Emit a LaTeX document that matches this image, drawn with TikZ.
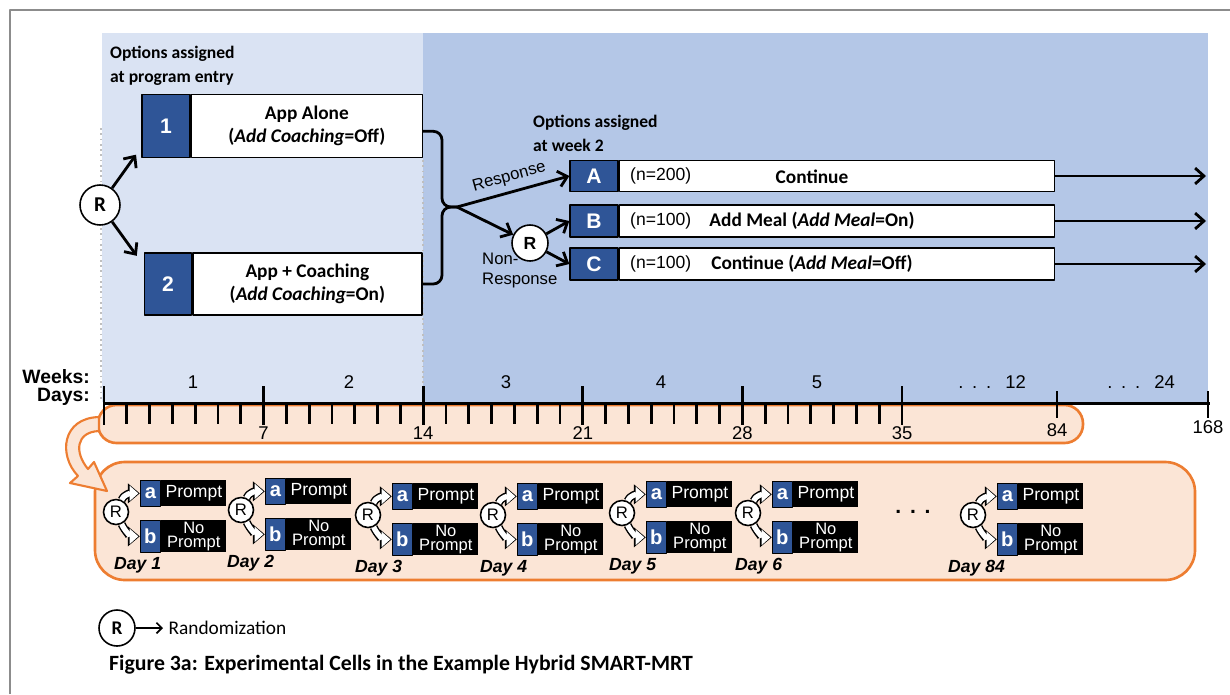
\documentclass[tikz,border=0pt]{standalone}
\usepackage{fontspec}
\setmainfont{Carlito}
\newfontfamily\arialfont{Liberation Sans}
\usetikzlibrary{positioning,arrows.meta}
\definecolor{lightband}{HTML}{DAE3F3}
\definecolor{midband}{HTML}{B4C7E7}
\definecolor{navybox}{HTML}{2F5597}
\definecolor{orangeline}{HTML}{ED7D31}
\definecolor{orangefill}{HTML}{FBE5D6}
\definecolor{framegray}{HTML}{8C8C8C}
\tikzset{
  armnum/.style={fill=navybox,draw=black,line width=0.8pt,text=white,inner sep=0pt,
    font=\arialfont\bfseries\fontsize{12}{14}\selectfont},
  armtext/.style={fill=white,draw=black,line width=0.8pt,inner sep=0pt,align=center,
    font=\bfseries\fontsize{11}{13}\selectfont},
  armlab/.style={font=\arialfont\fontsize{10}{12}\selectfont},
  randnode/.style={circle,draw=black,fill=white,line width=0.9pt,inner sep=0pt},
  flow/.style={->,line width=1.6pt},
  promptbox/.style={fill=black,text=white,inner sep=0pt,text width=1.3cm,align=center,
    font=\arialfont\fontsize{9.4}{8}\selectfont},
  letterbox/.style={fill=navybox,draw=black,line width=0.7pt,text=white,inner sep=0pt,
    minimum width=0.4cm,font=\arialfont\bfseries\fontsize{11.5}{12}\selectfont},
  dayarrow/.style={draw=white,line width=3pt,shorten >=0.8pt,-{Triangle[length=5pt,width=8.5pt]},
    preaction={draw=black,line width=4.6pt,shorten >=0pt,-{Triangle[length=6.8pt,width=11pt]}}},
  axislab/.style={font=\arialfont\fontsize{10.5}{12}\selectfont},
}
\begin{document}
\begin{tikzpicture}[x=0.02cm,y=-0.02cm,>={Straight Barb[length=5pt,width=9pt]},line join=round]
\useasboundingbox (0,0) rectangle (1230,694);
% frame and phases
\draw[framegray,line width=1.2pt] (10,694) -- (10,10) -- (1230,10);
\fill[lightband] (102,33) rectangle (423,402);
\fill[midband] (423,33) rectangle (1208,402);
\draw[gray!50,dotted,line width=1pt] (101,128) -- (101,400);
\draw[gray!50,dotted,line width=1pt] (423,160) -- (423,400);
% orange bands
\draw[orangeline,fill=orangefill,line width=1.5pt,rounded corners=10.5pt] (98,405) rectangle (1083,443);
\draw[orangeline,fill=orangefill,line width=1.5pt,rounded corners=17pt] (95,462) rectangle (1195,580);
\draw[orangeline,fill=orangefill,line width=1.2pt] (99,417) .. controls (62,418) and (58,455) .. (78,476)
  -- (70,483) -- (107,491) -- (94,462) -- (88,469) .. controls (74,452) and (76,432) .. (99,431) -- cycle;

% stage 1
\node[anchor=north west,align=left,font=\bfseries\fontsize{10}{13.5}\selectfont] (head1) at (104,40)
  {Options assigned\\at program entry};
\node[armnum,minimum width=0.96cm,minimum height=1.26cm] (n1) at (166,126) {1};
\node[armtext,right=0pt of n1,minimum width=4.62cm,minimum height=1.26cm] (t1)
  {App Alone\\(\textit{Add Coaching}=Off)};
\node[armnum,minimum width=0.94cm,minimum height=1.24cm] (n2) at (168,284) {2};
\node[armtext,right=0pt of n2,minimum width=4.58cm,minimum height=1.24cm] (t2)
  {App + Coaching\\(\textit{Add Coaching}=On)};
\node[randnode,minimum size=0.8cm,font=\bfseries\fontsize{12}{14}\selectfont] (r1) at (100,205) {R};
\draw[flow] (r1) -- ([shift={(-3pt,2pt)}]n1.south west);
\draw[flow] (r1) -- ([shift={(-4pt,-2pt)}]n2.north west);

% brace
\coordinate (tip) at (457,207);
\draw[line width=1.6pt,rounded corners=5pt] ([yshift=-3pt]t1.east) -| (442,207) -- (tip);
\draw[line width=1.6pt,rounded corners=5pt] (t2.east) -| (442,207) -- (tip);

% stage 2
\node[anchor=north west,align=left,font=\bfseries\fontsize{10}{13.5}\selectfont] (head2) at (527,109)
  {Options assigned\\at week 2};
\node[armnum,minimum width=0.96cm,minimum height=0.62cm] (nA) at (594,176) {A};
\node[armtext,right=0pt of nA,minimum width=8.7cm,minimum height=0.62cm] (tA) {};
\node[armnum,minimum width=0.96cm,minimum height=0.64cm] (nB) at (594,221) {B};
\node[armtext,right=0pt of nB,minimum width=8.7cm,minimum height=0.64cm] (tB) {};
\node[armnum,minimum width=0.96cm,minimum height=0.64cm] (nC) at (594,264) {C};
\node[armtext,right=0pt of nC,minimum width=8.7cm,minimum height=0.64cm] (tC) {};
\node[armlab,anchor=west] (sA) at (624,176) {(n=200)};
\node[armlab,anchor=west] (sB) at (624,221) {(n=100)};
\node[armlab,anchor=west] (sC) at (624,264) {(n=100)};
\node[font=\bfseries\fontsize{11}{13}\selectfont] (cA) at (812,177) {Continue};
\node[font=\bfseries\fontsize{11}{13}\selectfont] (cB) at (812,221) {Add Meal (\textit{Add Meal}=On)};
\node[font=\bfseries\fontsize{11}{13}\selectfont] (cC) at (812,264) {Continue (\textit{Add Meal}=Off)};
\node[randnode,minimum size=0.72cm,font=\arialfont\bfseries\fontsize{10}{12}\selectfont] (r2) at (530,243) {R};
\draw[flow] (tip) -- (nA.west) node[midway,above,sloped,armlab,font=\arialfont\fontsize{9.5}{11}\selectfont] {Response};
\draw[flow] (tip) -- (r2);
\draw[flow] (r2) -- (nB.west);
\draw[flow] (r2) -- (nC.west);
\node[anchor=north west,align=left,font=\arialfont\fontsize{9.5}{11.3}\selectfont] (nonresp) at (476,247) {Non-\\Response};
\coordinate (eA) at (1206,176);
\coordinate (eB) at (1206,221);
\coordinate (eC) at (1206,264);
\draw[flow] (tA.east) -- (eA);
\draw[flow] (tB.east) -- (eB);
\draw[flow] (tC.east) -- (eC);

% time axis
\node[anchor=east,font=\arialfont\bfseries\fontsize{11}{12}\selectfont] (wk) at (96,377) {Weeks:};
\node[anchor=east,font=\arialfont\bfseries\fontsize{11}{12}\selectfont] (dy) at (96,397) {Days:};
\draw[line width=1.7pt] (104,403) -- (1210,403);
\foreach \d in {1,...,34}
  \draw[line width=1.6pt] (104+22.8*\d,403) -- (104+22.8*\d,424);
\foreach \d/\lab in {7/7,14/14,21/21,28/28,35/35}{
  \draw[line width=1.6pt] (104+22.8*\d,386) -- (104+22.8*\d,425);
  \node[axislab] at (104+22.8*\d,433) {\lab};
}
\draw[line width=1.6pt] (104,386) -- (104,425);
\draw[line width=1.6pt] (1057,391) -- (1057,418);
\draw[line width=1.6pt] (1208,391) -- (1208,418);
\node[axislab] at (1057,430) {84};
\node[axislab] at (1208,427) {168};
\foreach \w/\x in {1/193,2/349,3/506,4/661,5/817}
  \node[axislab] at (\x,382) {\w};
\node[axislab,anchor=east] at (1032,382) {.\hspace{5pt}.\hspace{5pt}.\hspace{8pt}12};
\node[axislab,anchor=east] at (1181,382) {.\hspace{5pt}.\hspace{5pt}.\hspace{8pt}24};

% daily micro-randomizations
\foreach \i/\rx/\ry/\lx/\lab in {1/118/512/108/Day 1,2/243/510/221/Day 2,3/370/515/349/Day 3,
    4/495/515/474/Day 4,5/624/513/603/Day 5,6/750/513/729/Day 6,84/975/515/942/Day 84}{
  \node[randnode,minimum size=0.5cm,font=\arialfont\fontsize{9.5}{11}\selectfont] (rd\i) at (\rx-2,\ry) {R};
  \node[promptbox,anchor=north west,minimum height=0.52cm,font=\arialfont\fontsize{10}{10}\selectfont] (pa\i) at (\rx+43,\ry-32) {Prompt};
  \node[letterbox,left=0pt of pa\i,minimum height=0.52cm] (la\i) {a};
  \node[promptbox,anchor=north west,minimum height=0.64cm] (pb\i) at (\rx+43,\ry+8) {No\\Prompt};
  \node[letterbox,left=0pt of pb\i,minimum height=0.64cm] (lb\i) {b};
  \draw[dayarrow] (rd\i.65) to[out=65,in=180] (la\i.west);
  \draw[dayarrow] (rd\i.-65) to[out=-65,in=180] (lb\i.west);
  \node[anchor=west,font=\arialfont\bfseries\itshape\fontsize{10}{12}\selectfont] (dl\i) at (\lx,\ry+53) {\lab};
}
\node[font=\arialfont\bfseries\fontsize{12}{12}\selectfont] (more) at (913,512) {.\hspace{5pt}.\hspace{5pt}.};

% legend and caption
\node[randnode,minimum size=0.72cm,font=\bfseries\fontsize{11}{13}\selectfont] (lr) at (117,628) {R};
\node[anchor=west,font=\fontsize{11}{13}\selectfont,inner sep=3pt] (lt) at (163,628) {Randomization};
\draw[->,line width=1pt,>={Straight Barb[length=3pt,width=6pt]}] (lr) -- (lt);
\node[anchor=west,font=\bfseries\fontsize{12.4}{14}\selectfont] (cap) at (103,665)
  {Figure 3a: Experimental Cells in the Example Hybrid SMART-MRT};
\end{tikzpicture}
\end{document}
